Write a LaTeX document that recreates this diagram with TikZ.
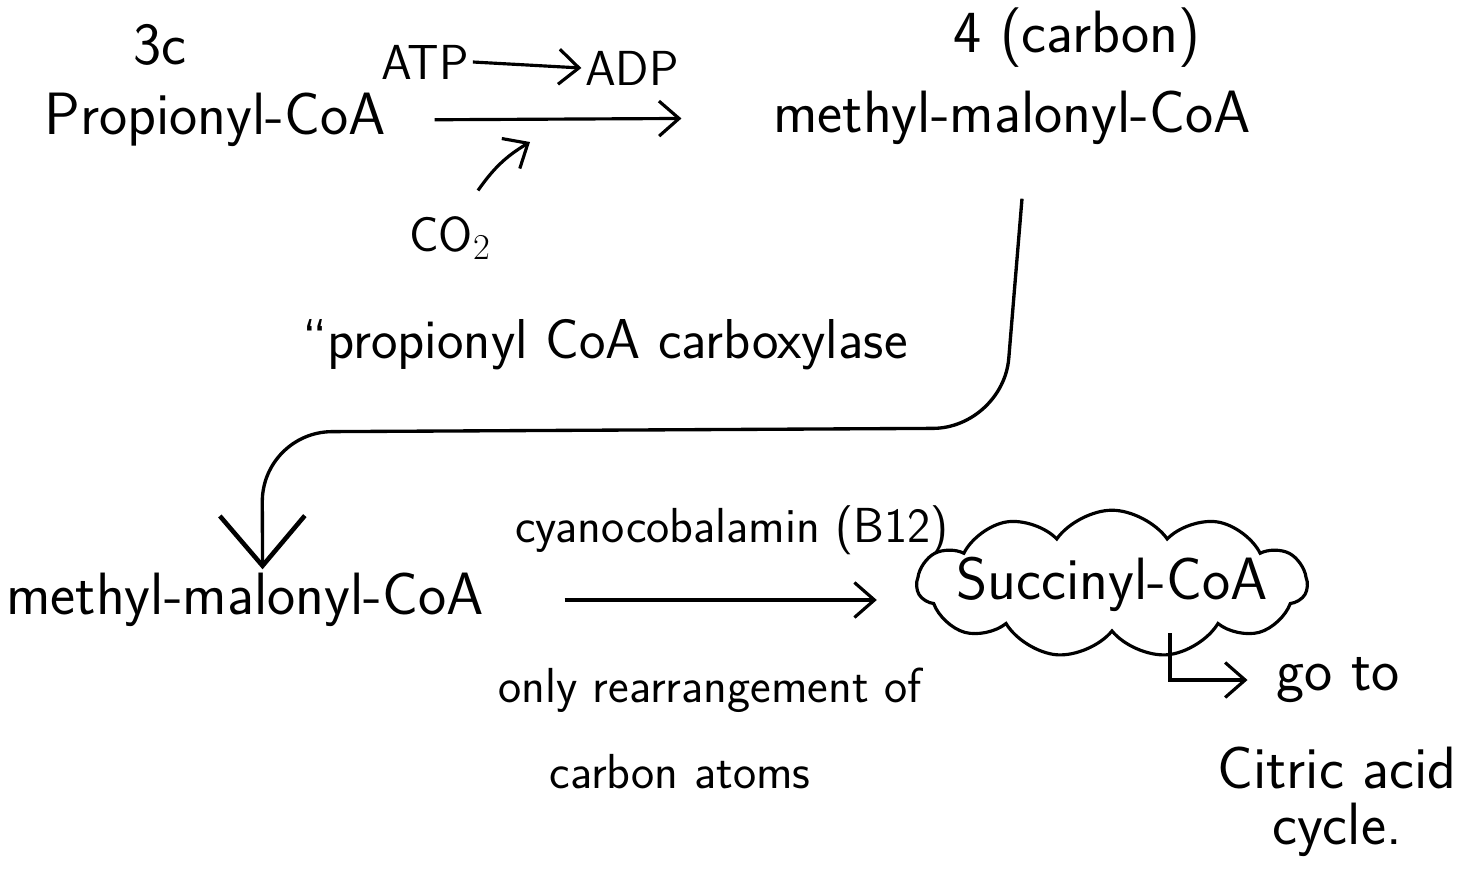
\documentclass[tikz,border=0pt]{standalone}
\usepackage{tikz}
\usetikzlibrary{arrows.meta,positioning,shapes.symbols}

\begin{document}
\begin{tikzpicture}[
  x=0.02cm, y=-0.02cm,
  font=\sffamily\fontsize{34}{38}\selectfont,
  chem/.style={inner sep=2pt},
  note/.style={inner sep=2pt, font=\sffamily\fontsize{28}{32}\selectfont},
  bignote/.style={inner sep=2pt, font=\sffamily\fontsize{34}{38}\selectfont},
  ar/.style={-{Straight Barb[length=4mm,width=7mm]}, line width=1.8pt},
  big/.style={-{Straight Barb[length=10mm,width=17mm,line width=2.6pt]}, line width=1.9pt, rounded corners=1.4cm},
]
\useasboundingbox (0,0) rectangle (1482,869);

% --- top reaction ---
\node[chem] (prop) at (215,120) {Propionyl-CoA};
\node[bignote] (c3) at (160,45) {3c};
\node[chem] (mma) at (1012,118) {methyl-malonyl-CoA};
\node[bignote] (c4) at (1077,38) {4 (carbon)};
\node[note] (atp) at (425,62) {ATP};
\node[note] (adp) at (632,68) {ADP};
\node[note] (co2) at (450,238) {CO$_2$};
\coordinate (hit) at (530,142);
\draw[ar] (atp.east) -- (adp.west);
\draw[ar, shorten <=0.9cm, shorten >=1.76cm] (prop.east) -- (mma.west);
\draw[ar] ([shift={(28,-22)}]co2.north) to[bend left=12] (hit);

% --- enzyme ---
\node[note, font=\sffamily\fontsize{32}{36}\selectfont] (enz) at (605,345) {``propionyl CoA carboxylase};

% --- bottom reaction ---
\node[chem, cloud, draw, line width=1.8pt, cloud puffs=11, cloud puff arc=110,
      cloud ignores aspect, minimum width=7.8cm, minimum height=2.6cm,
      inner xsep=-40pt, inner ysep=8pt] (succ) at (1112,584) {Succinyl-CoA};
\node[chem] (mmb) at (245,600) {methyl-malonyl-CoA};
\draw[big] ([shift={(10,50)}]mma.south) -- (1003,428) -- (262,432) -- ([xshift=10pt]mmb.north);
\draw[ar, shorten <=1.54cm, shorten >=0.76cm] (mmb.east) -- (succ.west |- mmb.east);
\node[note] (cyano) at (732,530) {cyanocobalamin (B12)};
\node[note] (rearr) at (710,690) {only rearrangement of};
\node[note] (catoms) at (680,772) {carbon atoms};

% --- fate ---
\node[bignote] (goto) at (1338,680) {go to};
\node[bignote] (citric) at (1337,768) {Citric acid};
\node[bignote] (cycle) at (1337,830) {cycle.};
\draw[ar, shorten >=0.5cm] (succ.south -| 1170,0) |- (goto.west);
\end{tikzpicture}
\end{document}
